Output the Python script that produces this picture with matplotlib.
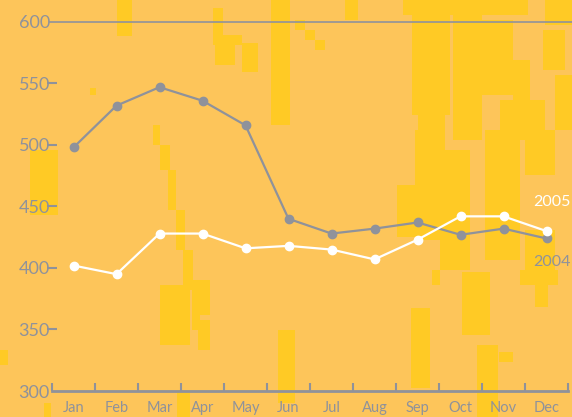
import matplotlib
matplotlib.use("Agg")
from matplotlib import pyplot as plt
from matplotlib.patches import Rectangle

months = ["Jan", "Feb", "Mar", "Apr", "May", "Jun", "Jul", "Aug", "Sep", "Oct", "Nov", "Dec"]
sales_2004 = [498, 532, 547, 536, 516, 440, 428, 432, 437, 427, 432, 424]
sales_2005 = [402, 395, 428, 428, 416, 418, 415, 407, 423, 442, 442, 430]
y_ticks = [300, 350, 400, 450, 500, 550, 600]

BG = "#FDC55A"
CAMO = "#FFCA25"
GRAY = "#8F929B"

# decorative camouflage blobs behind the chart, in pixel units (x0, x1, y0, y1)
camo = [
    (403, 528, 0, 15), (412, 450, 15, 115), (453, 482, 10, 140), (480, 513, 20, 95),
    (545, 572, 0, 25), (543, 565, 30, 70), (500, 545, 100, 140), (418, 445, 115, 140),
    (397, 420, 185, 237), (415, 445, 130, 240), (440, 470, 150, 270), (485, 520, 130, 260),
    (525, 555, 130, 175), (525, 555, 230, 280), (411, 430, 308, 388), (432, 440, 270, 285),
    (462, 490, 272, 335), (477, 498, 345, 417), (520, 558, 270, 285), (535, 548, 285, 307),
    (499, 513, 352, 362), (213, 223, 8, 45), (220, 242, 35, 45), (215, 235, 45, 65),
    (242, 258, 43, 72), (271, 290, 0, 125), (295, 305, 20, 30), (305, 315, 30, 40),
    (315, 325, 40, 50), (345, 358, 0, 20), (117, 132, 0, 36), (30, 58, 150, 215),
    (153, 160, 125, 145), (160, 170, 145, 170), (168, 176, 170, 210), (176, 185, 210, 250),
    (183, 193, 250, 290), (192, 200, 290, 330), (160, 190, 285, 345), (192, 210, 280, 315),
    (278, 295, 330, 403), (177, 190, 390, 417), (0, 8, 350, 365), (44, 51, 403, 417),
    (198, 210, 320, 350), (90, 96, 88, 95), (513, 530, 60, 100), (555, 572, 75, 130),
]

fig = plt.figure(figsize=(5.72, 4.17), dpi=100)
fig.patch.set_facecolor(BG)

bg = fig.add_axes([0, 0, 1, 1], zorder=0)
bg.set_xlim(0, 572)
bg.set_ylim(417, 0)
bg.axis("off")
for x0, x1, y0, y1 in camo:
    bg.add_patch(Rectangle((x0, y0), x1 - x0, y1 - y0, color=CAMO, lw=0))

ax = fig.add_axes([52 / 572, 26 / 417, 516 / 572, 369 / 417], zorder=1)
ax.patch.set_alpha(0)
x = list(range(len(months)))

ax.plot(x, sales_2004, color=GRAY, lw=1.6, marker="o", ms=6, clip_on=False)
ax.plot(x, sales_2005, color="white", lw=1.6, marker="o", ms=6, clip_on=False)

ax.set_xlim(-0.5, 11.5)
ax.set_ylim(300, 600)
ax.axhline(600, xmin=-0.004, xmax=1.01, color=GRAY, lw=1.2, clip_on=False)

for side in ["top", "right", "left"]:
    ax.spines[side].set_visible(False)
ax.spines["bottom"].set_color(GRAY)
ax.spines["bottom"].set_linewidth(2)

font = "Lato"
ax.set_xticks([i - 0.5 for i in range(13)])
ax.set_xticklabels([])
ax.set_xticks(x, minor=True)
ax.set_xticklabels(months, minor=True, fontsize=10.5, color=GRAY, family=font)
ax.tick_params(axis="x", which="major", direction="in", length=6, width=1.5, color=GRAY)
ax.tick_params(axis="x", which="minor", length=0, pad=7)

ax.set_yticks(y_ticks)
ax.set_yticklabels([str(v) for v in y_ticks], fontsize=13, color=GRAY, family=font)
ax.tick_params(axis="y", direction="inout", length=7, width=1.5, color=GRAY, pad=-2)
ax.yaxis.get_major_ticks()[0].tick1line.set_visible(False)
ax.yaxis.get_major_ticks()[-1].tick1line.set_visible(False)

ax.text(11.56, 454, "2005", color="white", fontsize=11.5, family=font,
        ha="right", va="center", clip_on=False)
ax.text(11.56, 405, "2004", color=GRAY, fontsize=11.5, family=font,
        ha="right", va="center", clip_on=False)

fig.savefig("out.png", dpi=100, facecolor=BG)
